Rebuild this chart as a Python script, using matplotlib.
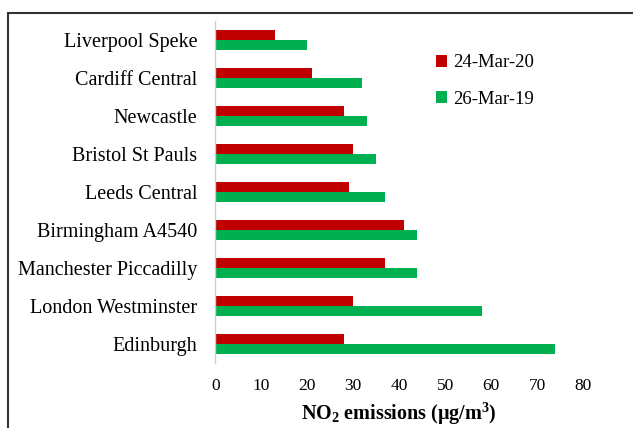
import matplotlib
matplotlib.use("Agg")
import matplotlib.pyplot as plt
import numpy as np
from matplotlib.patches import Rectangle

plt.rcParams['font.family'] = ['Liberation Serif', 'DejaVu Serif']
plt.rcParams['mathtext.fontset'] = 'custom'
plt.rcParams['mathtext.rm'] = 'Liberation Serif:bold'
plt.rcParams['mathtext.bf'] = 'Liberation Serif:bold'
plt.rcParams['mathtext.default'] = 'bf'

stations = ["Edinburgh", "London Westminster", "Manchester Piccadilly", "Birmingham A4540",
            "Leeds Central", "Bristol St Pauls", "Newcastle", "Cardiff Central", "Liverpool Speke"]
mar20 = [28, 30, 37, 41, 29, 30, 28, 21, 13]
mar19 = [74, 58, 44, 44, 37, 35, 33, 32, 20]
series_labels = ["24-Mar-20", "26-Mar-19"]
xticks = [0, 10, 20, 30, 40, 50, 60, 70, 80]

fig = plt.figure(figsize=(6.33, 4.28), dpi=100)
ax = fig.add_axes([0.340, 0.152, 0.581, 0.799])

y = np.arange(len(stations))
h = 0.27
ax.barh(y + h/2, mar20, height=h, color='#C00000', label=series_labels[0])
ax.barh(y - h/2, mar19, height=h, color='#00B050', label=series_labels[1])

ax.set_xlim(0, 80)
ax.set_ylim(-0.5, len(stations) - 0.5)
ax.set_yticks(y)
ax.set_yticklabels(stations, fontsize=14.5)
ax.set_xticks(xticks)
ax.set_xticklabels([str(t) for t in xticks], fontsize=12.5)
ax.tick_params(length=0)
ax.tick_params(axis='x', pad=11)
ax.tick_params(axis='y', pad=13)
for s in ['top', 'right', 'bottom']:
    ax.spines[s].set_visible(False)
ax.spines['left'].set_color('#D0D0D0')
ax.spines['left'].set_linewidth(1)

ax.set_xlabel(r"NO$_2$ emissions (μg/m$^3$)", fontsize=14.5, fontweight='bold', labelpad=5)

leg = ax.legend(loc='upper left', bbox_to_anchor=(0.555, 0.952), frameon=False,
                fontsize=13.5, handlelength=0.6, handleheight=0.6, handletextpad=0.3,
                labelspacing=1.05)

fig.patches.append(Rectangle((8/633, -0.1), 1.1, 1 - 13/428 + 0.1, transform=fig.transFigure,
                             fill=False, edgecolor='#333333', linewidth=1.5, zorder=10))

fig.savefig("out.png", dpi=100)
